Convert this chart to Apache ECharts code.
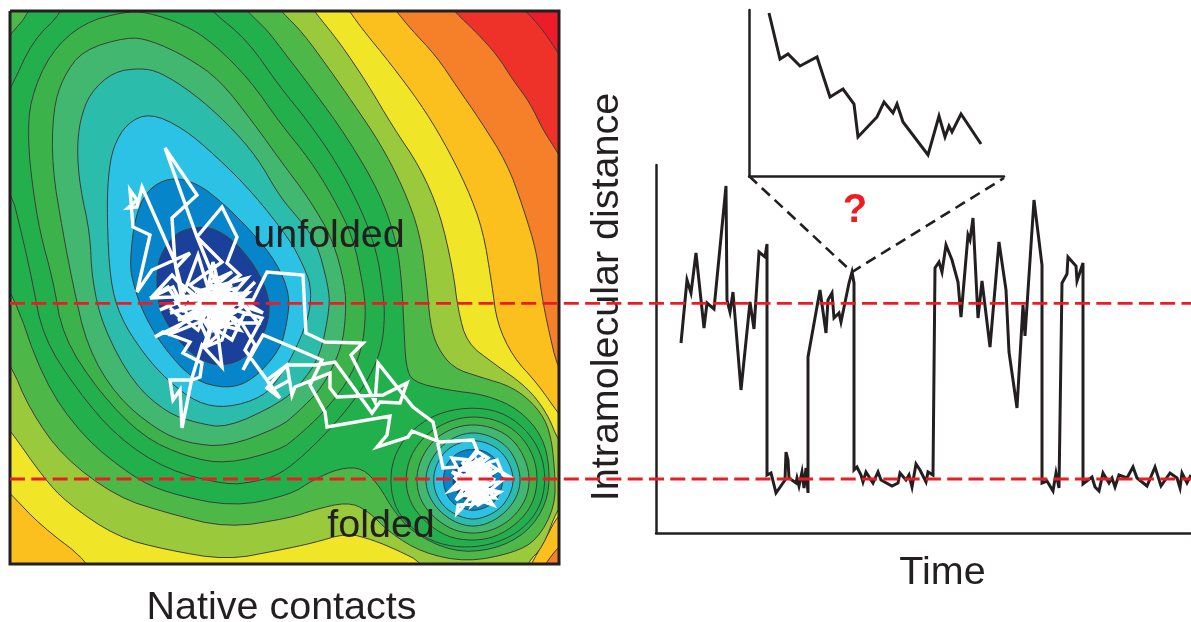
<!DOCTYPE html>
<html><head><meta charset="utf-8">
<style>html,body{margin:0;padding:0;background:#fff}#c{width:1191px;height:622px}</style>
<script src="https://cdn.jsdelivr.net/npm/echarts@6/dist/echarts.min.js"></script>
</head><body><div id="c"></div>
<script>
// Free-energy surface contours, outermost level first
const contour0=[[-30,-30],[600,-30],[600,640],[-30,640]];
const contour1=[[518,5],[530,15],[545,33],[558,53],[570,70],[570,640],[-30,640],[-30,-30],[510,-30]];
const contour2=[[450,5],[455,12],[477,33],[497,55],[513,80],[530,103],[543,130],[558,153],[570,175],[570,640],[-30,640],[-30,-30],[445,-30]];
const contour3=[[390,3],[397,12],[410,28],[437,57],[457,87],[480,120],[507,163],[523,207],[537,253],[540,285],[547,323],[558,370],[572,385],[575,535],[560,545],[545,564],[535,585],[-30,640],[-30,-30],[385,-30]];
const contour4=[[345,5],[350,12],[363,30],[390,63],[420,103],[443,140],[467,187],[483,230],[492,285],[497,323],[513,357],[537,383],[558,413],[572,430],[572,505],[558,515],[545,540],[530,566],[520,590],[95,590],[90,563],[40,525],[10,493],[-15,470],[-30,-30],[340,-30]];
const contour5=[[310,5],[315,12],[340,43],[367,83],[393,127],[420,167],[440,213],[453,270],[458,310],[467,343],[493,363],[527,387],[547,413],[558,440],[572,460],[572,495],[558,507],[543,547],[527,563],[520,590],[430,590],[423,563],[397,550],[373,540],[347,533],[313,543],[280,550],[227,560],[167,550],[117,537],[67,503],[43,477],[10,430],[-15,400],[-30,-30],[305,-30]];
const contour6=[[277,5],[282,12],[303,33],[330,70],[353,103],[380,143],[403,187],[420,233],[427,285],[430,323],[437,347],[453,368],[480,377],[513,387],[537,407],[550,430],[555,470],[555,507],[537,540],[513,553],[467,562],[423,553],[390,533],[367,510],[347,502],[313,510],[290,518],[227,528],[167,513],[117,497],[63,457],[30,410],[10,363],[-15,330],[-30,-30],[272,-30]];
const contour7=[[243,5],[248,12],[267,30],[280,47],[313,90],[347,137],[380,193],[397,243],[402,285],[404,330],[406,367],[413,382],[447,390],[487,395],[520,410],[543,437],[550,470],[547,503],[527,533],[493,550],[453,552],[413,533],[393,510],[380,487],[363,468],[340,468],[313,480],[290,495],[233,507],[167,493],[133,477],[83,437],[43,380],[12,290],[-20,250],[-25,60],[5,42],[10,35],[30,12],[35,-20],[240,-30]];
const contour8=[[208,5],[213,12],[247,40],[280,87],[307,120],[337,163],[363,213],[377,253],[382,285],[385,313],[382,347],[370,377],[347,410],[313,447],[280,475],[253,482],[227,485],[167,470],[117,437],[77,390],[43,337],[32,280],[22,235],[10,187],[-20,170],[-20,105],[5,95],[10,90],[33,40],[63,12],[68,-20],[205,-30]];
const ring8=[[468,407],[500,411],[525,428],[541,452],[546,480],[540,508],[522,530],[497,543],[468,548],[438,544],[413,530],[396,510],[390,485],[393,458],[408,433],[435,414]];
const contour9=[[123,12],[147,12],[185,25],[213,43],[250,80],[280,123],[310,160],[333,197],[353,237],[363,285],[366,313],[362,350],[347,383],[323,413],[297,437],[280,450],[227,464],[187,457],[143,437],[100,393],[63,337],[53,280],[40,233],[32,183],[28,140],[30,100],[50,53],[83,23]];
const ring9=[[472,416],[498,420],[520,434],[534,456],[538,480],[533,504],[518,523],[496,537],[472,541],[447,537],[425,522],[410,503],[405,480],[410,456],[425,435],[448,421]];
const contour10=[[127,37],[150,40],[187,57],[220,80],[255,125],[280,160],[310,200],[333,240],[345,285],[346,313],[342,347],[323,387],[297,413],[280,427],[227,447],[187,443],[157,430],[117,397],[87,347],[72,280],[63,233],[52,167],[53,110],[63,77],[83,50]];
const ring10=[[473,424],[495,428],[514,440],[526,460],[530,480],[526,500],[513,518],[494,530],[473,534],[452,530],[433,517],[420,500],[416,480],[420,460],[433,440],[452,428]];
const contour11=[[140,68],[160,72],[193,93],[227,123],[257,157],[280,197],[300,220],[317,243],[328,285],[330,307],[320,357],[300,385],[280,403],[227,428],[197,423],[167,413],[133,383],[103,327],[92,280],[90,233],[80,187],[77,150],[80,120],[90,93],[113,72]];
const ring11=[[473,432],[491,436],[507,446],[517,462],[521,480],[517,497],[506,512],[490,523],[473,527],[456,523],[440,512],[429,497],[425,480],[429,463],[440,447],[456,436]];
const contour12=[[150,113],[183,128],[217,157],[253,193],[290,240],[303,265],[311,285],[310,313],[297,347],[280,377],[263,397],[227,408],[197,403],[167,380],[143,353],[120,317],[110,280],[107,217],[108,177],[113,147],[127,123]];
const ring12=[[473,440],[488,443],[501,451],[510,464],[514,480],[510,495],[501,508],[488,516],[473,520],[458,516],[445,508],[436,495],[433,480],[436,465],[445,451],[458,443]];
const contour13=[[170,177],[197,183],[223,203],[253,233],[277,263],[290,295],[287,323],[280,350],[253,380],[227,389],[193,380],[163,347],[143,313],[132,280],[130,260],[135,217],[147,190]];
const ring13=[[473,449],[485,451],[495,458],[501,468],[503,480],[501,491],[495,502],[485,508],[473,511],[461,508],[451,502],[445,491],[443,480],[445,468],[451,458],[461,451]];
const contour14=[[197,227],[213,228],[233,240],[253,263],[267,290],[270,313],[263,337],[243,360],[220,366],[200,360],[180,343],[163,317],[157,297],[157,267],[163,250],[177,232]];
const ring14=[[473,459],[482,461],[489,467],[493,473],[494,480],[493,488],[488,495],[481,499],[473,501],[464,499],[458,494],[454,487],[453,480],[454,472],[458,466],[465,461]];
const contour15=[[205,285],[225,287],[240,302],[232,322],[212,325],[196,310],[195,295]];
const bandContours=[contour0,contour1,contour2,contour3,contour4,contour5,contour6,contour7,contour8,ring8,contour9,ring9,contour10,ring10,contour11,ring11,contour12,ring12,contour13,ring13,contour14,ring14,contour15];
const bandColors=['#ee1c2b','#ee3229','#f58029','#fcc01e','#f0e627','#9aca3c','#4db848','#22b04c','#23af4c','#23af4c','#3bb34a','#3bb34a','#41b770','#41b770','#2cbcab','#2cbcab','#2bc2e6','#2bc2e6','#0685ca','#0685ca','#1b409c','#1b409c','#1a3b94'];
// Simulated trajectory on the surface
const trajectory=[[212,305],[190,285],[222,262],[197,237],[165,148],[197,195],[172,218],[175,262],[186,305],[176,268],[190,253],[152,270],[137,292],[150,235],[133,227],[130,190],[137,200],[128,208],[137,207],[142,187],[175,262],[184,312],[168,287],[152,297],[172,275],[185,290],[198,255],[208,288],[213,262],[222,298],[197,237],[222,207],[237,237],[227,263],[240,275],[205,300],[232,285],[195,292],[247,278],[215,315],[180,283],[228,322],[200,290],[245,305],[210,330],[190,300],[235,300],[218,280],[225,325],[195,318],[240,330],[212,292],[222,312],[203,308],[232,295],[208,318],[216,298],[226,306],[200,300],[220,288],[212,322],[236,312],[192,308],[218,302],[228,290],[206,312],[222,320],[214,294],[198,330],[170,308],[185,322],[155,337],[163,332],[190,342],[183,353],[202,363],[200,377],[192,380],[170,380],[173,400],[180,390],[182,428],[192,378],[202,345],[222,367],[218,335],[203,348],[222,340],[235,300],[253,300],[267,272],[303,275],[306,333],[325,342],[363,343],[351,355],[375,402],[378,363],[413,407],[433,422],[437,440],[443,468],[457,467],[452,458],[470,460],[478,452],[488,458],[462,478],[490,462],[497,460],[503,475],[513,479],[490,465],[470,490],[485,475],[455,490],[478,470],[495,480],[465,475],[450,491],[475,483],[492,492],[468,500],[482,488],[500,492],[478,505],[462,485],[490,500],[475,478],[493,505],[470,497],[462,508],[457,513],[458,505],[480,503],[470,480],[487,470],[473,492],[482,465],[465,468],[478,490],[468,462],[492,470],[458,470],[482,458],[472,480],[498,470],[465,490],[485,482],[452,472],[480,495],[470,468],[495,498],[460,495],[476,460],[488,490],[464,480],[491,476],[456,500],[474,472],[484,500],[468,486],[500,482],[472,505],[482,476],[462,462],[478,486],[492,484],[466,494],[486,464],[474,496],[455,478],[477,450],[473,440],[440,442],[412,431],[408,437],[377,447],[387,435],[390,416],[327,427],[325,412],[310,385],[322,360],[280,342],[263,335],[243,370],[255,345],[240,320],[215,330],[228,298],[208,306],[224,316],[196,296],[238,288],[218,310],[205,322],[232,340],[245,312],[240,323],[258,323],[236,296],[263,313],[225,300],[253,303],[205,295],[248,293],[220,318],[255,282],[232,305],[178,320],[205,305],[170,313],[215,298],[168,335],[200,322],[208,340],[215,312],[203,348],[222,305],[217,338],[210,300],[240,323],[228,312],[218,290],[238,298],[208,283],[232,272],[198,300],[214,308],[224,296],[210,314],[220,302],[206,296],[226,312],[212,300],[218,316],[200,312],[180,300],[160,310],[195,296],[150,298],[173,287],[190,320],[218,305],[262,318],[245,350],[280,398],[267,388],[287,365],[317,365],[335,362],[372,413],[380,402],[400,403],[407,383],[383,395],[337,397],[330,388],[330,373],[295,387],[292,395],[287,365],[267,380],[272,390],[290,380]];
const surfaceFrame=[[10,11],[559,11],[559,564],[10,564],[10,11]];
const surfaceLabels=[['unfolded',329,236],['folded',381,526]];
// Intramolecular distance against time
const distanceTrace=[[681,343],[687,280],[691,293],[696,253],[704,328],[707,303],[714,309],[726,186],[727,300],[730,312],[733,292],[741,390],[750,302],[754,329],[759,252],[765,257],[767,244],[767,475],[771,473],[776,493],[785,480],[786,452],[788,460],[789,478],[796,483],[797,478],[799,486],[802,472],[804,488],[806,468],[808,493],[808,357],[820,290],[826,333],[828,300],[832,293],[834,318],[839,313],[841,322],[849,283],[852,272],[854,283],[854,470],[857,467],[861,475],[863,482],[866,472],[873,483],[878,472],[881,480],[892,486],[898,483],[900,473],[902,472],[906,480],[909,475],[912,487],[916,464],[920,470],[926,482],[928,472],[933,475],[935,268],[939,262],[942,272],[946,245],[952,260],[958,282],[961,317],[968,235],[970,240],[973,218],[978,318],[982,281],[990,347],[999,242],[1006,290],[1009,352],[1017,408],[1023,305],[1025,336],[1034,200],[1042,265],[1042,483],[1047,481],[1053,491],[1056,473],[1059,488],[1062,283],[1067,274],[1068,257],[1076,266],[1077,281],[1083,263],[1083,484],[1092,477],[1095,487],[1099,491],[1103,473],[1109,483],[1112,478],[1115,487],[1119,475],[1127,478],[1133,467],[1137,478],[1147,486],[1155,467],[1161,486],[1170,473],[1177,478],[1180,488],[1182,473],[1187,483],[1191,475]];
// Magnified inset
const insetTrace=[[769,13],[780,59],[788,54],[800,66],[817,57],[830,97],[843,89],[854,104],[858,137],[877,117],[884,102],[893,113],[897,104],[903,122],[928,155],[939,116],[945,137],[949,126],[952,132],[961,114],[981,144]];
// Overlay: reference levels and zoom connector
const foldedLevel=[[10,479],[1191,479]];
const unfoldedLevel=[[10,303.3],[1191,303.3]];
const zoomConnector=[[749,176],[852,272],[1004,178]];
const questionMark=[['?',855,211]];

const inFrame=p=>p[0]>5&&p[0]<565&&p[1]>5&&p[1]<570;
function soften(pts){const o=[],n=pts.length;for(let i=0;i<n;i++){const a=pts[(i-1+n)%n],b=pts[i],c=pts[(i+1)%n];
  if(!inFrame(b)){o.push(b);continue;}
  o.push([b[0]*.75+a[0]*.25,b[1]*.75+a[1]*.25],[b[0]*.75+c[0]*.25,b[1]*.75+c[1]*.25]);}return o;}
const ink='#231f20', font='"Liberation Sans",Arial,sans-serif';
const hiddenGrid=g=>Object.assign({outerBoundsMode:'none',containLabel:false},g);
const hiddenAxis=(g,min,max,inv)=>({type:'value',gridIndex:g,min,max,inverse:!!inv,show:false});
const plainAxis=(g,min,max,extra)=>Object.assign({type:'value',gridIndex:g,min,max,splitLine:{show:false},axisTick:{show:false},axisLabel:{show:false},
  axisLine:{show:true,onZero:false,lineStyle:{color:ink,width:2.5}}},extra||{});
const nameStyle=extra=>Object.assign({fontFamily:font,fontSize:39.5,color:ink},extra||{});
const chart=echarts.init(document.getElementById('c'),null,{renderer:'canvas'});
const textSeries=(idx,data,size,color,weight,z)=>({type:'scatter',xAxisIndex:idx,yAxisIndex:idx,z,symbolSize:0,silent:true,itemStyle:{opacity:1},
  data:data.map(d=>({value:[d[1],d[2]],name:d[0]})),
  label:{show:true,position:'inside',opacity:1,formatter:p=>p.name,fontFamily:font,fontSize:size,color,fontWeight:weight}});
chart.setOption({
  animation:false,backgroundColor:'#fff',
  grid:[
    hiddenGrid({left:10,top:11,width:549,height:553}),
    hiddenGrid({left:656,top:165,width:535,height:368}),
    hiddenGrid({left:749,top:10,width:255,height:166}),
    hiddenGrid({left:0,top:0,width:1191,height:622})
  ],
  xAxis:[
    Object.assign(plainAxis(0,10,559,{name:'Native contacts',nameLocation:'middle',nameGap:24,nameTextStyle:nameStyle({padding:[0,6,0,0]})}),{axisLine:{show:false}}),
    plainAxis(1,656,1191,{name:'Time',nameLocation:'middle',nameGap:20,nameTextStyle:nameStyle({padding:[0,0,0,38]})}),
    plainAxis(2,749,1004),
    hiddenAxis(3,0,1191)
  ],
  yAxis:[
    Object.assign(plainAxis(0,11,564,{inverse:true}),{axisLine:{show:false}}),
    plainAxis(1,165,533,{inverse:true,name:'Intramolecular distance',nameLocation:'middle',nameGap:29,nameRotate:90,nameTextStyle:nameStyle({padding:[0,0,0,104]})}),
    plainAxis(2,10,176,{inverse:true}),
    hiddenAxis(3,0,622,true)
  ],
  series:[
    {type:'custom',xAxisIndex:0,yAxisIndex:0,clip:true,z:2,silent:true,
      data:bandContours.map((c,i)=>[i]),
      renderItem:(params,api)=>{
        const i=api.value(0);
        const smooth=soften(soften(bandContours[i]));
        return {type:'polygon',shape:{points:smooth.map(p=>api.coord(p))},style:{fill:bandColors[i],stroke:'#3c3d3a',lineWidth:1}};
      }},
    {type:'line',xAxisIndex:0,yAxisIndex:0,z:4,symbol:'none',clip:true,silent:true,data:trajectory,
      lineStyle:{color:'#fff',width:3.4,join:'miter',miterLimit:4}},
    {type:'line',xAxisIndex:0,yAxisIndex:0,z:5,symbol:'none',clip:false,silent:true,data:surfaceFrame,
      lineStyle:{color:ink,width:3,join:'miter'}},
    textSeries(0,surfaceLabels,39.5,ink,'normal',6),
    {type:'line',xAxisIndex:1,yAxisIndex:1,z:4,symbol:'none',silent:true,data:distanceTrace,
      lineStyle:{color:ink,width:3,join:'miter',miterLimit:6}},
    {type:'line',xAxisIndex:2,yAxisIndex:2,z:4,symbol:'none',silent:true,data:insetTrace,
      lineStyle:{color:ink,width:3,join:'miter'}},
    {type:'line',xAxisIndex:3,yAxisIndex:3,z:8,symbol:'none',silent:true,data:unfoldedLevel,
      lineStyle:{color:'#ed1c24',width:2.8,type:[15,6.3]}},
    {type:'line',xAxisIndex:3,yAxisIndex:3,z:8,symbol:'none',silent:true,data:foldedLevel,
      lineStyle:{color:'#ed1c24',width:2.8,type:[15,6.3]}},
    {type:'line',xAxisIndex:3,yAxisIndex:3,z:7,symbol:'none',silent:true,data:zoomConnector,
      lineStyle:{color:ink,width:2.6,type:[11,6.5],join:'miter'}},
    textSeries(3,questionMark,40,'#ed1c24','bold',8)
  ]
});
</script></body></html>
